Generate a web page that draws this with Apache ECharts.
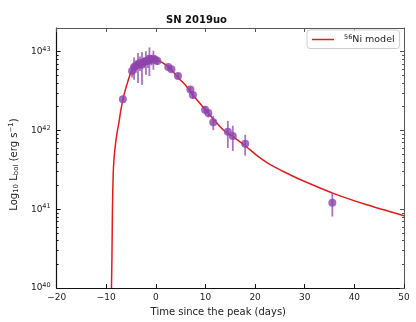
<!DOCTYPE html>
<html>
<head>
<meta charset="utf-8">
<script src="https://cdn.jsdelivr.net/npm/echarts@6/dist/echarts.min.js"></script>
<style>
  html, body { margin: 0; padding: 0; background: #fff; }
  #chart { width: 416px; height: 322px; }
</style>
</head>
<body>
<div id="chart"></div>
<script>
// 56Ni model curve (days since peak, erg/s)
const curveDays = [-8.95, -8.85, -8.75, -8.6, -8.4, -8.15, -7.8, -7.5, -7.1, -6.65, -6.2, -5.85, -5.3, -4.85, -4.0, -3.2, -2.2, -1.3, -0.5, 0.3, 1.4, 2.8, 4.3, 6.0, 7.6, 10.2, 13.5, 15.8, 18.1, 20.4, 22.7, 26.0, 29.3, 35.9, 42.5, 50]
const curveLum = [1.0e40, 2.5e40, 1.0e41, 2.8e41, 4.6e41, 6.6e41, 9.5e41, 1.2e42, 1.75e42, 2.45e42, 3.2e42, 3.8e42, 4.9e42, 5.8e42, 6.8e42, 7.4e42, 7.9e42, 8.05e42, 8.0e42, 7.8e42, 7.2e42, 6.2e42, 4.8e42, 3.75e42, 2.75e42, 1.76e42, 1.03e42, 8.1e41, 6.3e41, 4.8e41, 3.8e41, 2.95e41, 2.35e41, 1.58e41, 1.14e41, 8.3e40]

// observed bolometric points
const obsDays = [-6.65, -4.8, -4.4, -4.0, -3.6, -3.2, -2.8, -2.4, -2.0, -1.6, -1.3, -0.9, -0.5, -0.1, 0.3, 2.49, 3.14, 4.46, 6.96, 7.47, 9.92, 10.57, 11.56, 14.5, 15.5, 18.0, 35.56]
const obsLum = [2.49e42, 5.7e42, 6.4e42, 6.6e42, 6.8e42, 7.2e42, 6.8e42, 7.4e42, 7.6e42, 7.6e42, 8.1e42, 7.9e42, 8.1e42, 7.9e42, 7.6e42, 6.38e42, 5.96e42, 4.9e42, 3.3e42, 2.82e42, 1.83e42, 1.66e42, 1.27e42, 9.6e41, 8.5e41, 6.8e41, 1.21e41]
const obsErr = [1.0e41, 1.0e42, 2.0e42, 1.2e42, 2.8e42, 1.5e42, 3.0e42, 1.0e42, 2.5e42, 1.4e42, 3.2e42, 1.2e42, 2.2e42, 1.0e42, 0.8e42, 4e41, 4e41, 4e41, 3e41, 3e41, 2e41, 2e41, 2.6e41, 3.6e41, 3.0e41, 2.0e41, 4.0e40]

const xTicks = [-20, -10, 0, 10, 20, 30, 40, 50]
const yTickExp = [40, 41, 42, 43]

const yMin = 40
const yMax = 43.3
const minorExp = []
yTickExp.forEach(n => {
  for (let k = 2; k <= 9; k++) {
    const v = n + Math.log10(k)
    if (v < yMax) minorExp.push(v)
  }
})

const font = 'DejaVu Sans'
const purple = '#8e44ad'

const chart = echarts.init(document.getElementById('chart'))

const yBase = {
  type: 'value',
  min: yMin,
  max: yMax,
  splitLine: { show: false },
  axisLabel: { show: false }
}

const option = {
  animation: false,
  title: {
    text: 'SN 2019uo',
    left: 166,
    top: 15,
    padding: 0,
    textStyle: { fontFamily: font, fontSize: 10, fontWeight: 'bold', color: '#111' }
  },
  legend: {
    left: 307,
    top: 30,
    padding: [4, 5, 4, 5],
    borderColor: '#ccc',
    borderWidth: 1,
    borderRadius: 3,
    backgroundColor: 'rgba(255,255,255,0.9)',
    icon: 'rect',
    itemWidth: 22,
    itemHeight: 1.5,
    data: ['model'],
    formatter: () => '{sup|56}Ni model',
    textStyle: {
      fontFamily: font,
      fontSize: 9.5,
      color: '#222',
      padding: [0, 0, 0, 5],
      rich: {
        sup: { fontFamily: font, fontSize: 6.5, verticalAlign: 'top', padding: [0, 0, 4, 0] }
      }
    }
  },
  grid: { left: 50, right: 12, top: 28, bottom: 30 },
  xAxis: [
    {
      type: 'value',
      min: -20,
      max: xTicks[xTicks.length - 1],
      interval: 10,
      position: 'bottom',
      splitLine: { show: false },
      axisLine: { onZero: false, lineStyle: { color: '#111', width: 1.2 } },
      axisTick: { inside: true, length: 4, lineStyle: { color: '#111' } },
      axisLabel: {
        margin: 5,
        fontFamily: font,
        fontSize: 9,
        color: '#222',
        formatter: v => String(v).replace('-', '\u2212')
      },
      name: 'Time since the peak (days)',
      nameLocation: 'middle',
      nameGap: 16,
      nameTextStyle: { fontFamily: font, fontSize: 10, color: '#222', padding: [0, 24, 0, 0] }
    },
    {
      type: 'value',
      min: -20,
      max: xTicks[xTicks.length - 1],
      interval: 10,
      position: 'top',
      splitLine: { show: false },
      axisLine: { onZero: false, lineStyle: { color: '#555', width: 1 } },
      axisTick: { inside: true, length: 4, lineStyle: { color: '#555' } },
      axisLabel: { show: false }
    }
  ],
  yAxis: [
    Object.assign({}, yBase, {
      position: 'left',
      axisLine: { show: true, onZero: false, lineStyle: { color: '#111', width: 1.2 } },
      axisTick: { inside: true, length: 4, customValues: yTickExp, lineStyle: { color: '#111' } },
      axisLabel: {
        show: true,
        customValues: yTickExp,
        margin: 6,
        formatter: v => '{b|10}{s|' + Math.round(v) + '}',
        rich: {
          b: { fontFamily: font, fontSize: 9, color: '#222' },
          s: { fontFamily: font, fontSize: 6.5, color: '#222', verticalAlign: 'top', padding: [0, 0, 5, 0] }
        }
      },
      name: '{t|Log}{d|10}{t| L}{d|bol}{t| (erg s}{u|\u22121}{t|)}',
      nameLocation: 'middle',
      nameRotate: 90,
      nameGap: 33,
      nameTextStyle: {
        padding: [0, 13, 0, 0],
        rich: {
          t: { fontFamily: font, fontSize: 10, color: '#222' },
          d: { fontFamily: font, fontSize: 7, color: '#222', verticalAlign: 'bottom', padding: [3, 0, 0, 0] },
          u: { fontFamily: font, fontSize: 7, color: '#222', verticalAlign: 'top', padding: [0, 0, 5, 0] }
        }
      }
    }),
    Object.assign({}, yBase, {
      position: 'left',
      axisLine: { show: false, onZero: false },
      axisTick: { inside: true, length: 2, customValues: minorExp, lineStyle: { color: '#111' } }
    }),
    Object.assign({}, yBase, {
      position: 'right',
      axisLine: { show: true, onZero: false, lineStyle: { color: '#555', width: 1 } },
      axisTick: { inside: true, length: 4, customValues: yTickExp, lineStyle: { color: '#555' } }
    }),
    Object.assign({}, yBase, {
      position: 'right',
      axisLine: { show: false, onZero: false },
      axisTick: { inside: true, length: 2, customValues: minorExp, lineStyle: { color: '#555' } }
    })
  ],
  series: [
    {
      name: 'model',
      type: 'line',
      smooth: 0.25,
      symbol: 'none',
      z: 2,
      lineStyle: { color: '#e41a1c', width: 1.5 },
      itemStyle: { color: '#e41a1c' },
      data: curveDays.map((d, i) => [d, Math.log10(curveLum[i])])
    },
    {
      name: 'errors',
      type: 'custom',
      z: 3,
      data: obsDays.map((d, i) => [d, Math.log10(obsLum[i] - obsErr[i]), Math.log10(obsLum[i] + obsErr[i])]),
      renderItem: (params, api) => {
        const lo = api.coord([api.value(0), api.value(1)])
        const hi = api.coord([api.value(0), api.value(2)])
        return {
          type: 'line',
          shape: { x1: lo[0], y1: lo[1], x2: hi[0], y2: hi[1] },
          style: { stroke: 'rgba(142,68,173,0.75)', lineWidth: 1.8 }
        }
      }
    },
    {
      name: 'data',
      type: 'scatter',
      z: 4,
      symbolSize: 8,
      itemStyle: { color: purple },
      data: obsDays.map((d, i) => [d, Math.log10(obsLum[i])])
    }
  ]
}

chart.setOption(option)
</script>
</body>
</html>
